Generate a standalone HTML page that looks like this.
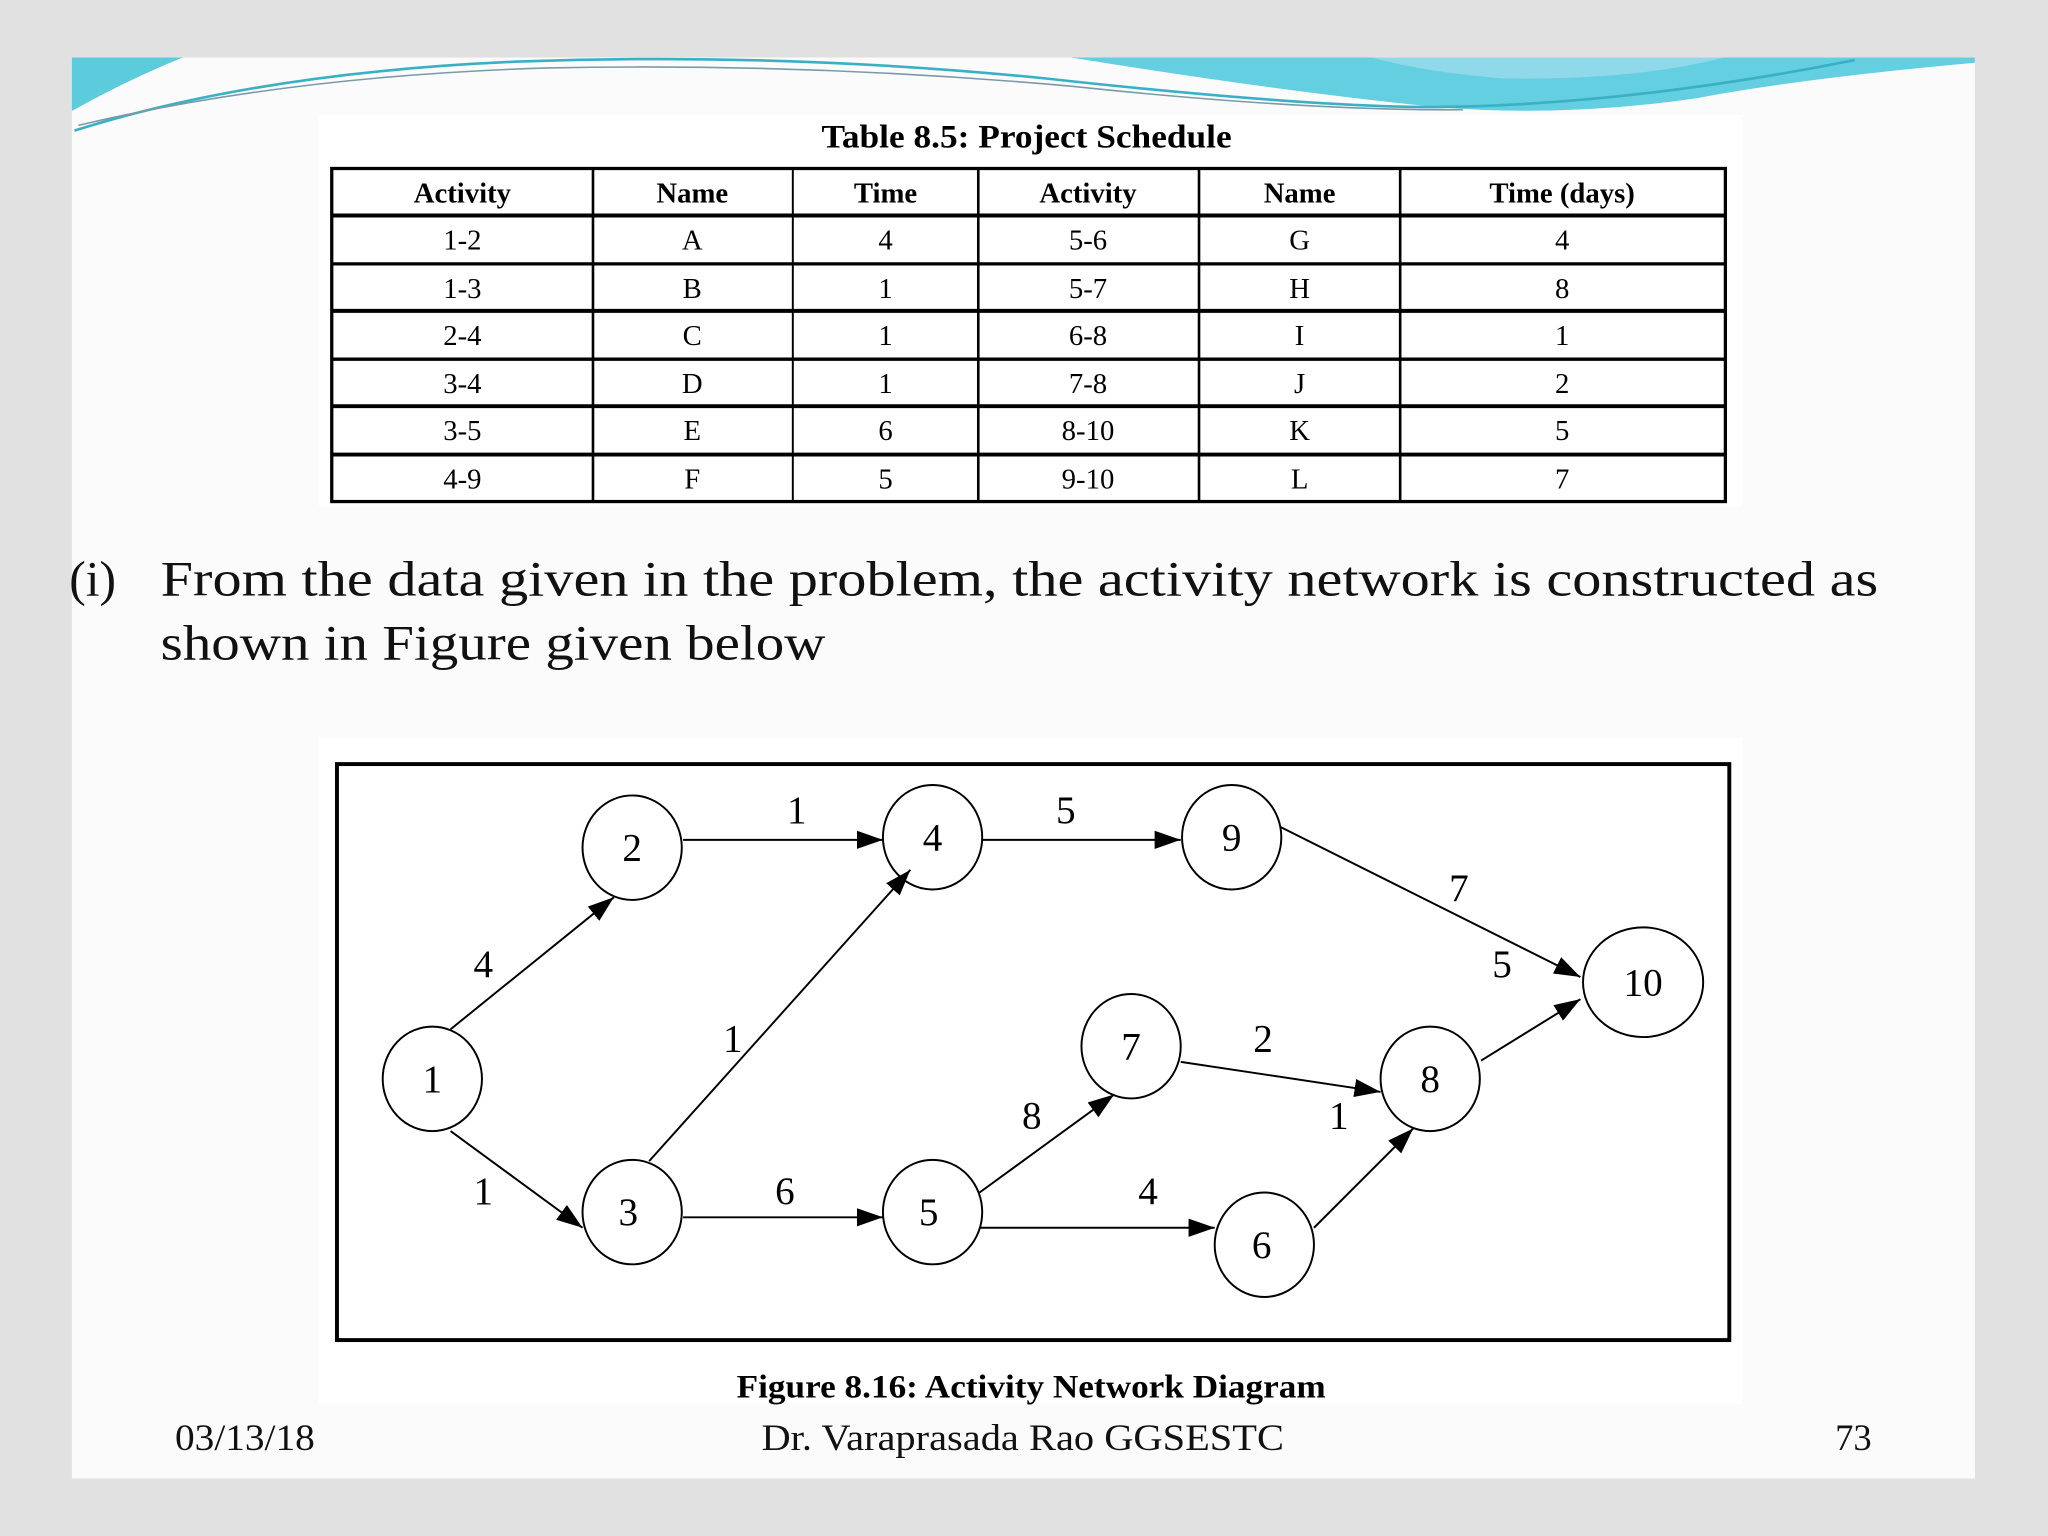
<!DOCTYPE html>
<html><head><meta charset="utf-8"><style>
html,body{margin:0;padding:0;background:#e1e1e1;}
svg{display:block;}
</style></head><body>
<svg width="2048" height="1536" viewBox="0 0 1568 1176" xmlns="http://www.w3.org/2000/svg" font-family="Liberation Serif, serif">
<defs>
<marker id="ah" markerWidth="20" markerHeight="14" refX="20" refY="7" orient="auto" markerUnits="userSpaceOnUse" viewBox="0 0 20 14">
<path d="M0,0 L20,7 L0,14 z" fill="#000"/>
</marker>
</defs>
<rect x="0" y="0" width="1568" height="1176" fill="#e1e1e1"/>
<rect x="55" y="44" width="1457" height="1088" fill="#fbfbfc"/>
<!-- wave -->
<path d="M55,44 L140,44 Q100,60 55,85 Z" fill="#5ccbdc"/>
<path d="M820,44 L1512,44 L1512,48 Q1380,60 1300,75 Q1200,90 1100,82 Q980,70 820,44 Z" fill="#63cfe0"/>
<path d="M1050,44 L1320,44 Q1250,62 1150,60 Q1090,55 1050,44 Z" fill="#8fd9ea"/>
<path d="M57,100 Q200,55 400,47 Q600,40 800,60 Q1000,82 1100,82 Q1250,80 1420,46" fill="none" stroke="#3bb0c4" stroke-width="2"/>
<path d="M60,96 Q220,58 420,52 Q620,48 820,66 Q1000,85 1120,84" fill="none" stroke="#7a9aa8" stroke-width="1.2"/>
<rect x="244" y="88" width="1090" height="300" fill="#fff"/>
<rect x="244" y="565" width="1090" height="510" fill="#fff"/>
<!-- table -->
<text x="629" y="113" font-size="25" font-weight="bold" textLength="314" lengthAdjust="spacingAndGlyphs">Table 8.5: Project Schedule</text>
<g stroke="#000" fill="none">
<rect x="254" y="129" width="1067" height="255" stroke-width="2.5"/>
<line x1="254" y1="165" x2="1321" y2="165" stroke-width="3"/>
<line x1="254" y1="202" x2="1321" y2="202" stroke-width="2.5"/>
<line x1="254" y1="238" x2="1321" y2="238" stroke-width="3"/>
<line x1="254" y1="275" x2="1321" y2="275" stroke-width="2.5"/>
<line x1="254" y1="311" x2="1321" y2="311" stroke-width="3"/>
<line x1="254" y1="348" x2="1321" y2="348" stroke-width="3"/>
<line x1="454" y1="129" x2="454" y2="384" stroke-width="2"/>
<line x1="607" y1="129" x2="607" y2="384" stroke-width="1.5"/>
<line x1="749" y1="129" x2="749" y2="384" stroke-width="2"/>
<line x1="918" y1="129" x2="918" y2="384" stroke-width="2"/>
<line x1="1072" y1="129" x2="1072" y2="384" stroke-width="2"/>
</g>
<g font-size="22" text-anchor="middle">
<g font-weight="bold"><text x="354" y="155">Activity</text><text x="530" y="155">Name</text><text x="678" y="155">Time</text><text x="833" y="155">Activity</text><text x="995" y="155">Name</text><text x="1196" y="155">Time (days)</text></g>
<text x="354" y="191">1-2</text><text x="530" y="191">A</text><text x="678" y="191">4</text><text x="833" y="191">5-6</text><text x="995" y="191">G</text><text x="1196" y="191">4</text>
<text x="354" y="228">1-3</text><text x="530" y="228">B</text><text x="678" y="228">1</text><text x="833" y="228">5-7</text><text x="995" y="228">H</text><text x="1196" y="228">8</text>
<text x="354" y="264">2-4</text><text x="530" y="264">C</text><text x="678" y="264">1</text><text x="833" y="264">6-8</text><text x="995" y="264">I</text><text x="1196" y="264">1</text>
<text x="354" y="301">3-4</text><text x="530" y="301">D</text><text x="678" y="301">1</text><text x="833" y="301">7-8</text><text x="995" y="301">J</text><text x="1196" y="301">2</text>
<text x="354" y="337">3-5</text><text x="530" y="337">E</text><text x="678" y="337">6</text><text x="833" y="337">8-10</text><text x="995" y="337">K</text><text x="1196" y="337">5</text>
<text x="354" y="374">4-9</text><text x="530" y="374">F</text><text x="678" y="374">5</text><text x="833" y="374">9-10</text><text x="995" y="374">L</text><text x="1196" y="374">7</text>
</g>
<!-- paragraph -->
<g font-size="38" fill="#111">
<text x="53" y="456">(i)</text>
<text x="123" y="456" textLength="1315" lengthAdjust="spacingAndGlyphs">From the data given in the problem, the activity network is constructed as</text>
<text x="123" y="505" textLength="509" lengthAdjust="spacingAndGlyphs">shown in Figure given below</text>
</g>
<!-- figure -->
<rect x="258" y="585" width="1066" height="441" fill="none" stroke="#000" stroke-width="3"/>
<g stroke="#000" stroke-width="1.5" fill="none" marker-end="url(#ah)">
<line x1="345" y1="788" x2="470" y2="687"/>
<line x1="345" y1="866" x2="446" y2="940"/>
<line x1="523" y1="643" x2="676" y2="643"/>
<line x1="497" y1="889" x2="697" y2="666"/>
<line x1="752" y1="643" x2="904" y2="643"/>
<line x1="523" y1="932" x2="676" y2="932"/>
<line x1="750" y1="913" x2="853" y2="838"/>
<line x1="750" y1="940" x2="930" y2="940"/>
<line x1="904" y1="813" x2="1057" y2="836"/>
<line x1="1006" y1="940" x2="1082" y2="864"/>
<line x1="980" y1="633" x2="1210" y2="748"/>
<line x1="1134" y1="812" x2="1210" y2="765"/>
</g>
<g stroke="#000" stroke-width="1.5" fill="none">
<ellipse cx="331" cy="826" rx="38" ry="40"/>
<ellipse cx="484" cy="649" rx="38" ry="40"/>
<ellipse cx="714" cy="641" rx="38" ry="40"/>
<ellipse cx="943" cy="641" rx="38" ry="40"/>
<ellipse cx="1258" cy="752" rx="46" ry="42"/>
<ellipse cx="866" cy="801" rx="38" ry="40"/>
<ellipse cx="1095" cy="826" rx="38" ry="40"/>
<ellipse cx="484" cy="928" rx="38" ry="40"/>
<ellipse cx="714" cy="928" rx="38" ry="40"/>
<ellipse cx="968" cy="953" rx="38" ry="40"/>
</g>
<g font-size="30" text-anchor="middle">
<text x="331" y="836">1</text><text x="484" y="659">2</text><text x="714" y="651">4</text><text x="943" y="651">9</text>
<text x="1258" y="762">10</text><text x="866" y="811">7</text><text x="1095" y="836">8</text><text x="481" y="938">3</text>
<text x="711" y="938">5</text><text x="966" y="963">6</text>
<text x="370" y="748">4</text><text x="370" y="922">1</text><text x="610" y="630">1</text><text x="816" y="630">5</text>
<text x="561" y="805">1</text><text x="601" y="922">6</text><text x="790" y="864">8</text><text x="879" y="922">4</text>
<text x="967" y="805">2</text><text x="1025" y="864">1</text><text x="1117" y="690">7</text><text x="1150" y="748">5</text>
</g>
<text x="564" y="1070" font-size="25" font-weight="bold" textLength="451" lengthAdjust="spacingAndGlyphs">Figure 8.16: Activity Network Diagram</text>
<!-- footer -->
<g font-size="28" fill="#111">
<text x="134" y="1110" textLength="107" lengthAdjust="spacingAndGlyphs">03/13/18</text>
<text x="583" y="1110" textLength="400" lengthAdjust="spacingAndGlyphs">Dr. Varaprasada Rao GGSESTC</text>
<text x="1405" y="1110">73</text>
</g>
</svg>
</body></html>
